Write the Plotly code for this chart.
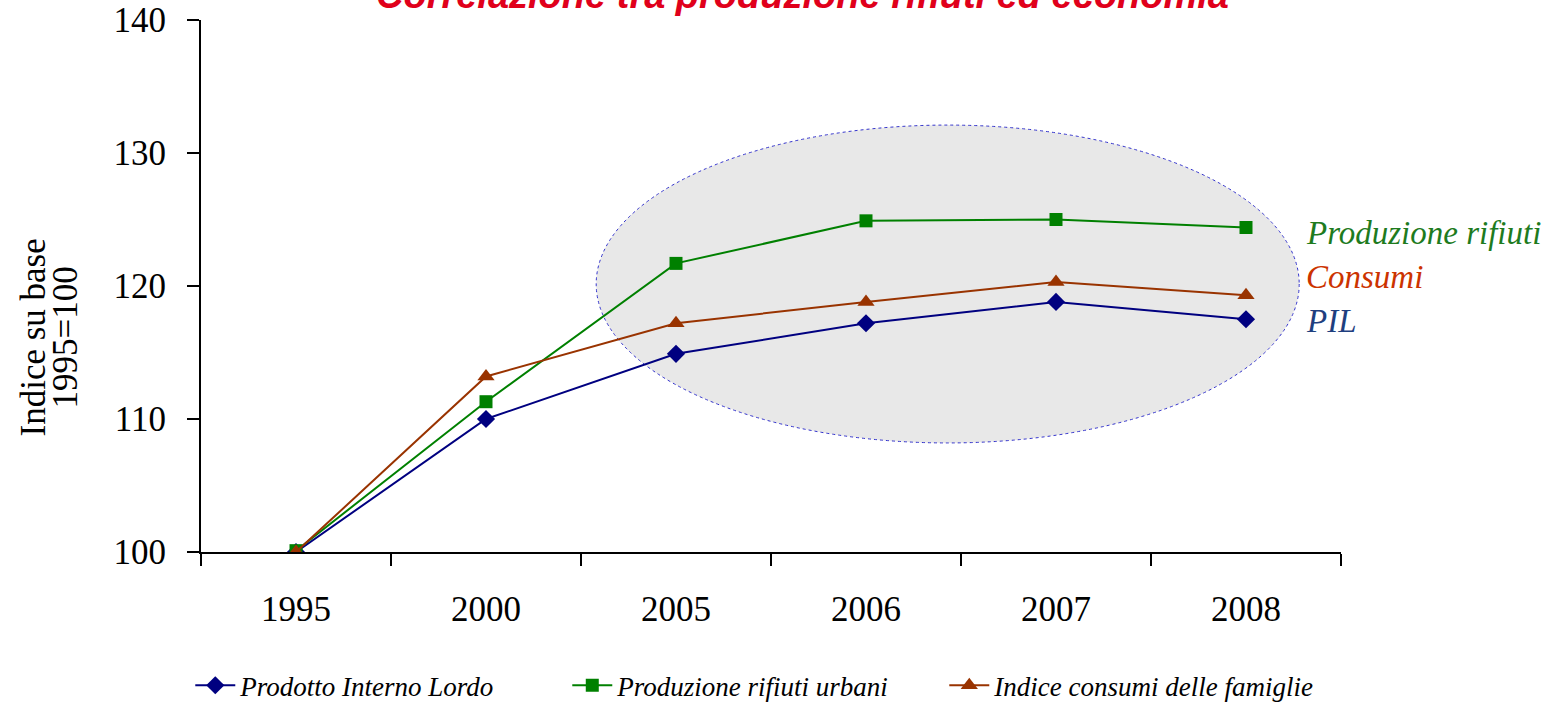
import plotly.graph_objects as go

years = ['1995', '2000', '2005', '2006', '2007', '2008']
pil = [100.0, 110.0, 114.9, 117.2, 118.8, 117.5]
rifiuti = [100.1, 111.3, 121.7, 124.9, 125.0, 124.4]
consumi = [100.0, 113.2, 117.2, 118.8, 120.3, 119.3]

y_ticks = [100, 110, 120, 130, 140]

serif = 'Liberation Serif'

fig = go.Figure()

fig.add_trace(go.Scatter(
    x=years, y=pil, name='Prodotto Interno Lordo',
    mode='lines+markers',
    line=dict(color='#000080', width=2),
    marker=dict(symbol='diamond', size=14, color='#000080')
))
fig.add_trace(go.Scatter(
    x=years, y=rifiuti, name='Produzione rifiuti urbani',
    mode='lines+markers',
    line=dict(color='#008000', width=2),
    marker=dict(symbol='square', size=13, color='#008000')
))
fig.add_trace(go.Scatter(
    x=years, y=consumi, name='Indice consumi delle famiglie',
    mode='lines+markers',
    line=dict(color='#993300', width=2),
    marker=dict(symbol='triangle-up', size=15, color='#993300')
))

# highlighted area
fig.add_shape(
    type='circle', xref='x', yref='y',
    x0=1.58, x1=5.28, y0=108.2, y1=132.1,
    fillcolor='#E8E8E8',
    line=dict(color='#3333CC', width=1, dash='dot'),
    layer='below'
)

labels = [
    ('Produzione rifiuti', 124.0, '#1E7B1E'),
    ('Consumi', 120.7, '#CC3300'),
    ('PIL', 117.4, '#1F3F7F'),
]
for text, yv, col in labels:
    fig.add_annotation(
        x=1.0, xref='paper', y=yv, yref='y',
        xanchor='left', yanchor='middle', xshift=-37,
        text='<i>' + text + '</i>', showarrow=False,
        font=dict(family=serif, size=33, color=col)
    )

# y axis title, two lines placed separately
for text, xp in [('Indice su base', -0.147), ('1995=100', -0.119)]:
    fig.add_annotation(
        x=xp, xref='paper', y=0.404, yref='paper',
        xanchor='center', yanchor='middle', textangle=-90,
        text=text, showarrow=False,
        font=dict(family=serif, size=35, color='black')
    )

fig.add_annotation(
    x=0.528, xref='paper', y=1.0, yref='paper',
    xanchor='center', yanchor='bottom', yshift=2,
    text='<b><i>Correlazione tra produzione rifiuti ed economia</i></b>',
    showarrow=False,
    font=dict(family='Liberation Sans', size=38, color='#E0001B')
)

fig.update_layout(
    width=1547, height=704,
    margin=dict(l=201, r=206, t=20, b=152),
    plot_bgcolor='white', paper_bgcolor='white',
    font=dict(family=serif, size=35, color='black'),
    showlegend=True,
    legend=dict(
        orientation='h', xref='container', x=0.123, xanchor='left',
        yref='container', y=0.026, yanchor='middle',
        font=dict(family=serif, size=27, style='italic'),
        itemwidth=40, entrywidth=322, tracegroupgap=0
    )
)

fig.update_xaxes(
    type='category', range=[-0.5, 5.5], automargin=False,
    showline=True, linecolor='black', linewidth=2,
    ticks='outside', tickson='boundaries', ticklen=12,
    tickwidth=2, tickcolor='black',
    showgrid=False, zeroline=False,
    ticklabelstandoff=25
)

fig.update_yaxes(
    range=[100, 140], tickvals=y_ticks, automargin=False,
    showline=True, linecolor='black', linewidth=2,
    ticks='outside', ticklen=12, tickwidth=2, tickcolor='black',
    showgrid=False, zeroline=False,
    ticklabelstandoff=14, ticklabeloverflow='allow'
)

# drop the default page margin so the figure sits at the window's corner
fig.write_html(
    'out.html',
    config={'displayModeBar': False},
    post_script="document.body.style.margin = '0px';"
)
